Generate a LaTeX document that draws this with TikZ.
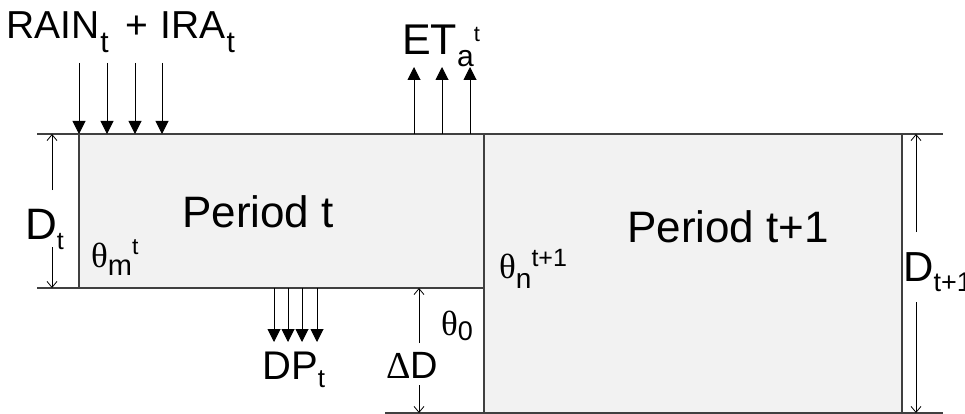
\documentclass[tikz,border=0pt]{standalone}
\usepackage{fontspec}
\setmainfont{Liberation Sans}
\newfontfamily\grk{Liberation Serif}
\usetikzlibrary{arrows.meta}
\definecolor{boxfill}{HTML}{F2F2F2}
\definecolor{edge}{HTML}{404040}
\newcommand\fs[1]{\fontsize{#1}{#1}\selectfont}
\newcommand\mysub[3]{\raisebox{-#1pt}{\fs{#2}#3}}
\newcommand\mysup[3]{\raisebox{#1pt}{\fs{#2}#3}}
\tikzset{
  lab/.style={inner sep=0pt, anchor=base west, text=black},
  boxline/.style={draw=edge, line width=1.3pt},
  hline/.style={draw=edge, line width=1.3pt},
  flux/.style={draw=black, line width=1pt, -{Triangle[length=13pt,width=13pt]}},
  dim/.style={draw=black, line width=0.8pt, -{Straight Barb[length=6pt,width=10pt]}}
}
\begin{document}
\begin{tikzpicture}[x=1pt,y=-1pt]
\useasboundingbox (0,0) rectangle (965,414);
% boxes
\path[fill=boxfill] (79,134) rectangle (484,288);
\path[fill=boxfill] (484,134) rectangle (902,413);
\draw[boxline] (79,134) -- (79,288);
\draw[boxline] (484,134) -- (484,413);
\draw[boxline] (902,134) -- (902,413);
% horizontal lines
\coordinate (tl) at (37,134); \coordinate (tr) at (943,134);
\coordinate (ml) at (37,288); \coordinate (mr) at (484,288);
\coordinate (bl) at (385,413); \coordinate (br) at (943,413);
\draw[hline] (tl) -- (tr);
\draw[hline] (ml) -- (mr);
\draw[hline] (bl) -- (br);
% rain arrows
\foreach \x [count=\i] in {79,107,135,162} {
  \coordinate (rain\i a) at (\x,63); \coordinate (rain\i b) at (\x,134);
  \draw[flux] (rain\i a) -- (rain\i b);
}
% ET arrows
\foreach \x [count=\i] in {414,442,470} {
  \coordinate (et\i a) at (\x,134); \coordinate (et\i b) at (\x,67);
  \draw[flux] (et\i a) -- (et\i b);
}
% DP arrows
\foreach \x [count=\i] in {274,288,302,317} {
  \coordinate (dp\i a) at (\x,288); \coordinate (dp\i b) at (\x,342);
  \draw[flux] (dp\i a) -- (dp\i b);
}
% dimension arrows
\coordinate (dtT) at (52,134); \coordinate (dtA) at (52,190);
\coordinate (dtB) at (52,247); \coordinate (dtE) at (52,288);
\draw[dim] (dtA) -- (dtT); \draw[dim] (dtB) -- (dtE);
\coordinate (d1T) at (916,134); \coordinate (d1A) at (916,232);
\coordinate (d1B) at (916,302); \coordinate (d1E) at (916,413);
\draw[dim] (d1A) -- (d1T); \draw[dim] (d1B) -- (d1E);
\coordinate (ddT) at (419,288); \coordinate (ddA) at (419,343);
\coordinate (ddB) at (419,385); \coordinate (ddE) at (419,413);
\draw[dim] (ddA) -- (ddT); \draw[dim] (ddB) -- (ddE);
% labels
\node[lab] (rainlab) at (6,39) {\fs{39}RAIN\hspace{1pt}\mysub{14}{30}{t}\hspace{17pt}+\hspace{12pt}IRA\hspace{1pt}\mysub{14}{30}{t}};
\node[lab] (etlab) at (402,55) {\fs{43}ET\mysub{12}{30}{a}\mysup{13}{22}{t}};
\node[lab] (per1) at (182,227) {\fs{44}Period t};
\node[lab] (per2) at (627,242) {\fs{44}Period t+1};
\node[lab] (dtlab) at (25,239) {\fs{44}D\mysub{10}{25}{t}};
\node[lab] (d1lab) at (903,281) {\fs{42}D\mysub{10}{27}{t+1}};
\node[lab] (ddlab) at (386,378) {\fs{38}{\grk Δ}D};
\node[lab] (dplab) at (262,379) {\fs{40}DP\mysub{8}{26}{t}};
\node[lab] (thm) at (91,267) {\fs{35}{\grk θ}\mysub{8}{29}{m}\mysup{13}{23}{t}};
\node[lab] (thn) at (499,278) {\fs{35}{\grk θ}\mysub{10}{28}{n}\mysup{12}{25}{t+1}};
\node[lab] (th0) at (441,335) {\fs{35}{\grk θ}\mysub{5}{27}{0}};
\end{tikzpicture}
\end{document}
